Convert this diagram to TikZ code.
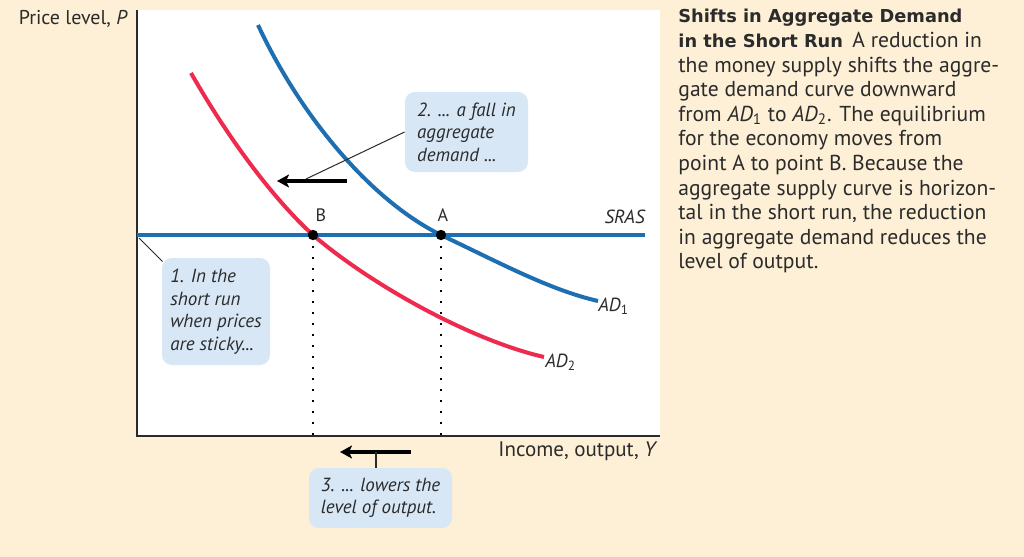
\documentclass[tikz,border=0pt]{standalone}
\usepackage{fontspec}
\setmainfont{PT Sans}
\newfontfamily\headfont{DejaVu Sans}
\usepackage{xcolor}
\usepackage{tikz}
\usetikzlibrary{positioning, calc, arrows.meta}

\definecolor{cream}{HTML}{FDF0D6}
\definecolor{adblue}{HTML}{1D6FB2}
\definecolor{adred}{HTML}{EE2A4E}
\definecolor{notefill}{HTML}{D8E7F5}
\definecolor{inkgray}{HTML}{2B2B2B}

\tikzset{
  note/.style={fill=notefill, rounded corners=5pt, align=left, inner sep=0pt,
    font=\itshape\fontsize{9.5}{11.3}\selectfont, text=inkgray},
  lbl/.style={font=\fontsize{10}{12}\selectfont, text=inkgray, inner sep=0pt},
  shiftarrow/.style={line width=2pt, -{Stealth[length=6pt, width=6.5pt, inset=1.5pt]}},
  pin/.style={line width=0.5pt, inkgray},
  guide/.style={line width=0.9pt, dash pattern=on 0.9pt off 4.6pt}
}

\begin{document}
\begin{tikzpicture}[x=0.5pt, y=-0.5pt]
    % Page and plot area
    \fill[cream] (0,0) rectangle (1024,557);
    \useasboundingbox (0,0) rectangle (1024,557);
    \fill[white] (137,10) rectangle (660,436);

    % Axes
    \coordinate (O) at (137,436);
    \coordinate (ytop) at (137,10);
    \coordinate (xend) at (660,436);
    \draw[line width=1pt, inkgray] (ytop) -- (O) -- (xend);
    \node[lbl, anchor=east] (ylab) at (128,19) {Price level, \textit{P}};
    \node[lbl, anchor=east, font=\fontsize{10.5}{12}\selectfont] (xlab) at (658,451) {Income, output, \textit{Y}};

    % Short-run aggregate supply
    \coordinate (s0) at (137,235);
    \coordinate (s1) at (645,235);
    \draw[adblue, line width=1.6pt] (s0) -- (s1);
    \node[lbl, anchor=base east, font=\itshape\fontsize{9.5}{11}\selectfont] (sras) at (645,223) {SRAS};

    % Equilibria
    \coordinate (A) at (441,235);
    \coordinate (B) at (313,235);

    % Aggregate demand curves
    \draw[adblue, line width=2pt] (258,25) .. controls (300,115) and (370,200) .. (A)
      .. controls (500,263) and (550,290) .. (598,301);
    \draw[adred, line width=2pt] (191,73) .. controls (235,150) and (280,205) .. (B)
      .. controls (370,284) and (470,340) .. (544,357);
    \node[lbl, anchor=west, font=\fontsize{9.5}{11}\selectfont] (ad1) at (598,306) {\textit{AD}\textsubscript{1}};
    \node[lbl, anchor=west, font=\fontsize{9.5}{11}\selectfont] (ad2) at (545,362) {\textit{AD}\textsubscript{2}};

    % Dotted guides and points
    \draw[guide] (A) -- (A |- O);
    \draw[guide] (B) -- (B |- O);
    \fill[black] (A) circle (2.6pt);
    \fill[black] (B) circle (2.6pt);
    \node[lbl, font=\fontsize{9}{11}\selectfont] (Alab) at (443,215) {A};
    \node[lbl, font=\fontsize{9}{11}\selectfont] (Blab) at (321,215) {B};

    % Shift arrows
    \coordinate (d0) at (347,181);
    \coordinate (d1) at (277,181);
    \draw[shiftarrow] (d0) -- (d1);
    \coordinate (y0) at (411,452);
    \coordinate (y1) at (340,452);
    \draw[shiftarrow] (y0) -- (y1);

    % Notes
    \node[note, minimum width=54pt, minimum height=53.5pt] (n1) at (216,311.5)
      {1. In the\\short run\\when prices\\are sticky...};
    \node[note, minimum width=61.5pt, minimum height=40pt] (n2) at (466.5,132)
      {2. ... a fall in\\aggregate\\demand ...};
    \node[note, minimum width=71.5pt, minimum height=30pt] (n3) at (380.5,498)
      {3. ... lowers the\\level of output.};

    % Note pointers
    \coordinate (p1) at (139,238);
    \draw[pin] (p1) -- ($(n1.north west)+(1,4)$);
    \coordinate (p2) at (306,179);
    \draw[pin] (n2.west) -- (p2);
    \coordinate (p3) at (376,452);
    \draw[line width=1pt, inkgray] (p3) -- (p3 |- n3.north);

    % Caption
    \node[anchor=north west, align=left, inner sep=0pt, text=inkgray,
          font=\fontsize{10.8}{12.3}\selectfont] (cap) at (678,9)
      {{\headfont\bfseries\fontsize{8.9}{12.3}\selectfont Shifts in Aggregate Demand}\\
       {\headfont\bfseries\fontsize{8.9}{12.3}\selectfont in the Short Run}\ \,A reduction in\\
       the money supply shifts the aggre-\\
       gate demand curve downward\\
       from \textit{AD}\textsubscript{1} to \textit{AD}\textsubscript{2}. The equilibrium\\
       for the economy moves from\\
       point A to point B. Because the\\
       aggregate supply curve is horizon-\\
       tal in the short run, the reduction\\
       in aggregate demand reduces the\\
       level of output.};
\end{tikzpicture}
\end{document}
